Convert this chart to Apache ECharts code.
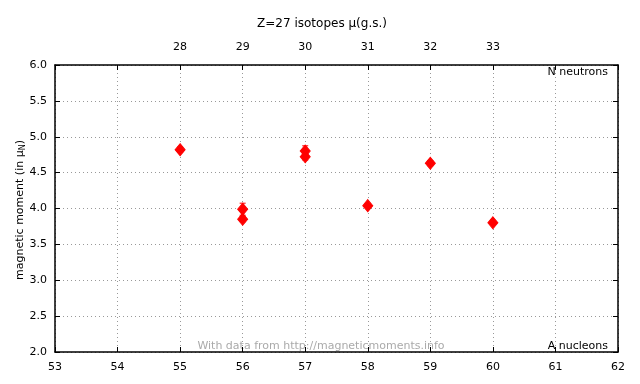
<!DOCTYPE html>
<html><head><meta charset="utf-8">
<script src="https://cdn.jsdelivr.net/npm/echarts@6/dist/echarts.min.js"></script>
<style>html,body{margin:0;padding:0;background:#fff}#c{width:640px;height:384px}</style>
</head><body><div id="c"></div>
<script>
// Data
var massNumbers = [55, 56, 56, 57, 57, 58, 59, 60];
var moments     = [4.82, 3.99, 3.85, 4.80, 4.72, 4.04, 4.63, 3.80];
var errors      = [0.02, 0.07, 0.02, 0.06, 0.03, 0.01, 0.02, 0.01];
var Z = 27;
var topTickLabels = [28, 29, 30, 31, 32, 33];

var font = 'DejaVu Sans';
var pts = massNumbers.map(function (a, i) { return [a, moments[i]]; });
var errData = massNumbers.map(function (a, i) { return [a, moments[i], errors[i]]; });

var chart = echarts.init(document.getElementById('c'));
var gridStyle = { show: true, lineStyle: { color: '#999', type: [1, 3], width: 1 } };
var axisLineStyle = { show: true, lineStyle: { color: '#000', width: 1.5 } };
chart.setOption({
  animation: false,
  backgroundColor: '#fff',
  title: {
    text: 'Z=27 isotopes μ(g.s.)', left: 317, top: 13, textAlign: 'center',
    textStyle: { fontFamily: font, fontSize: 12, fontWeight: 'normal', color: '#000' }
  },
  grid: { left: 55, right: 22, top: 65, bottom: 32 },
  graphic: [
    { type: 'text', x: 608, y: 72, style: { text: 'N neutrons', align: 'right', verticalAlign: 'middle', fontFamily: font, fontSize: 11, fill: '#000' } },
    { type: 'text', x: 608, y: 346, style: { text: 'A nucleons', align: 'right', verticalAlign: 'middle', fontFamily: font, fontSize: 11, fill: '#000' } },
    { type: 'text', x: 321, y: 346, style: { text: 'With data from http://magneticmoments.info', align: 'center', verticalAlign: 'middle', fontFamily: font, fontSize: 11, fill: '#aaa' } },
    { type: 'text', x: 20, y: 210, rotation: Math.PI / 2,
      style: { text: '{a|magnetic moment (in μ}{s|N}{a|)}', align: 'center', verticalAlign: 'middle',
        rich: { a: { fontFamily: font, fontSize: 11, fill: '#000' }, s: { fontFamily: font, fontSize: 8, fill: '#000', padding: [6, 0, 0, 0] } } } }
  ],
  xAxis: [
    { type: 'value', position: 'bottom', min: 53, max: 62, interval: 1,
      axisLine: axisLineStyle, axisTick: { show: true, inside: true, length: 5, lineStyle: { color: '#000' } },
      axisLabel: { fontFamily: font, fontSize: 11, color: '#000', margin: 10 },
      splitLine: gridStyle },
    { type: 'value', position: 'top', min: 53 - Z, max: 62 - Z, interval: 1,
      axisLine: axisLineStyle, axisTick: { show: true, inside: true, length: 5, lineStyle: { color: '#000' } },
      axisLabel: { fontFamily: font, fontSize: 11, color: '#000', margin: 12,
        formatter: function (v) { return topTickLabels.indexOf(v) >= 0 ? String(v) : ''; } },
      splitLine: { show: false } }
  ],
  yAxis: [
    { type: 'value', position: 'left', min: 2, max: 6, interval: 0.5,
      axisLine: axisLineStyle, axisTick: { show: true, inside: true, length: 5, lineStyle: { color: '#000' } },
      axisLabel: { fontFamily: font, fontSize: 11, color: '#000', margin: 8, formatter: function (v) { return v.toFixed(1); } },
      splitLine: gridStyle },
    { type: 'value', position: 'right', min: 2, max: 6, interval: 0.5,
      axisLine: axisLineStyle, axisTick: { show: true, inside: true, length: 5, lineStyle: { color: '#000' } },
      axisLabel: { show: false }, splitLine: { show: false } }
  ],
  series: [
    { type: 'custom', xAxisIndex: 0, yAxisIndex: 0, data: errData, z: 5,
      renderItem: function (params, api) {
        var x = api.value(0), y = api.value(1), e = api.value(2);
        var top = api.coord([x, y + e]), bot = api.coord([x, y - e]);
        var w = 3, st = { stroke: '#ff0000', lineWidth: 1 };
        return { type: 'group', children: [
          { type: 'line', shape: { x1: top[0], y1: top[1] - 1, x2: bot[0], y2: bot[1] + 1 }, style: st },
          { type: 'line', shape: { x1: top[0] - w, y1: top[1] - 1, x2: top[0] + w, y2: top[1] - 1 }, style: st },
          { type: 'line', shape: { x1: bot[0] - w, y1: bot[1] + 1, x2: bot[0] + w, y2: bot[1] + 1 }, style: st }
        ] };
      } },
    { type: 'scatter', xAxisIndex: 0, yAxisIndex: 0, data: pts, z: 4,
      symbol: 'diamond', symbolSize: [10, 12],
      itemStyle: { color: '#ff0000', borderColor: '#ff0000', borderWidth: 1, opacity: 1 } }
  ]
});
</script></body></html>
